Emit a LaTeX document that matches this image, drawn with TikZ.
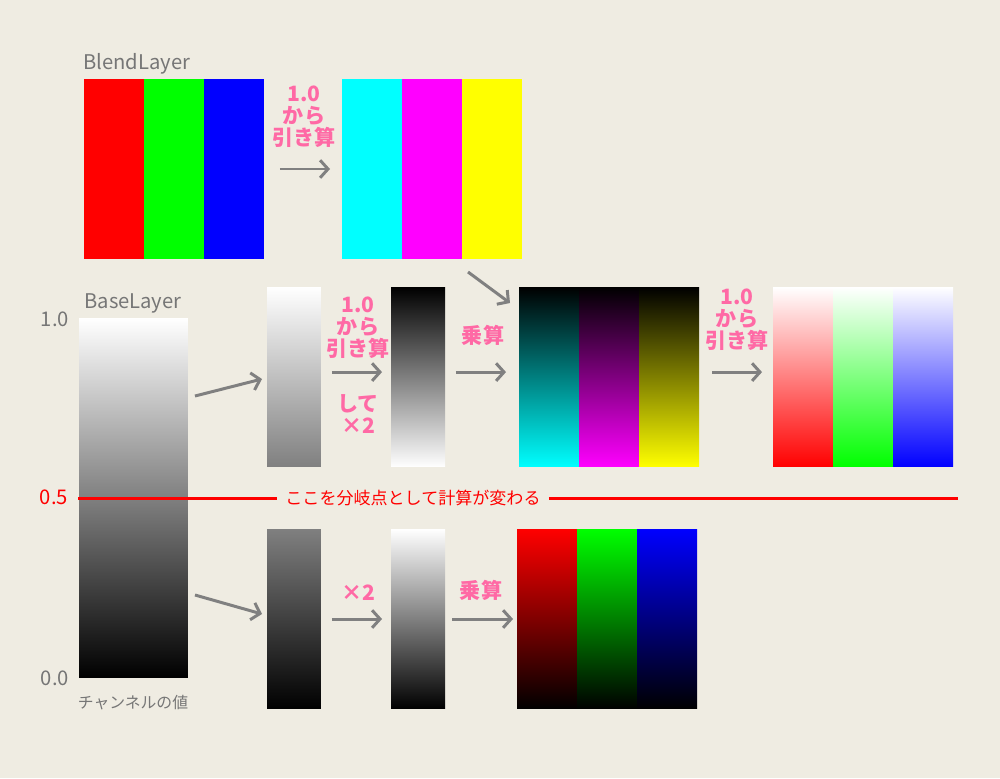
\documentclass[tikz,border=0pt]{standalone}
\usepackage{fontspec}
\setmainfont{Noto Sans CJK JP}
\usetikzlibrary{arrows.meta}

\definecolor{paper}{RGB}{239,236,226}
\definecolor{labelpink}{RGB}{255,105,165}
\definecolor{labelgray}{RGB}{118,118,118}
\definecolor{arrowgray}{RGB}{128,128,128}
\definecolor{pureR}{RGB}{255,0,0}
\definecolor{pureG}{RGB}{0,255,0}
\definecolor{pureB}{RGB}{0,0,255}
\definecolor{pureC}{RGB}{0,255,255}
\definecolor{pureM}{RGB}{255,0,255}
\definecolor{pureY}{RGB}{255,255,0}

\begin{document}
\begin{tikzpicture}[x=0.02cm, y=-0.02cm,
    stripe/.style={inner sep=0pt, outer sep=0pt, minimum width=1.2cm, minimum height=3.6cm},
    strip/.style={inner sep=0pt, outer sep=0pt, minimum width=1.08cm, minimum height=3.6cm},
    flow/.style={draw=arrowgray, line width=1.7pt, -{Straight Barb[length=4.5pt, width=10pt]}},
    op/.style={text=labelpink, font=\bfseries\fontsize{12}{12.6}\selectfont, align=center, inner sep=0pt},
    caption/.style={text=labelgray, font=\fontsize{11.5}{13}\selectfont, inner sep=0pt},
    splitline/.style={draw=pureR, line width=1.7pt}]

    % Background
    \fill[paper] (0,0) rectangle (1000,778);
    \useasboundingbox (0,0) rectangle (1000,778);

    % BlendLayer and its inverse
    \node[caption, anchor=base west] (blendname) at (83,69) {BlendLayer};
    \foreach \c/\x [count=\i] in {pureR/114, pureG/174, pureB/234}
        \node[stripe, fill=\c] (blend\i) at (\x,169) {};
    \foreach \c/\x [count=\i] in {pureC/372, pureM/432, pureY/492}
        \node[stripe, fill=\c] (inv\i) at (\x,169) {};

    % BaseLayer
    \node[caption, anchor=base west] (basename) at (84,308) {BaseLayer};
    \node[inner sep=0pt, outer sep=0pt, minimum width=2.18cm, minimum height=7.2cm,
          top color=white, bottom color=black] (base) at (133.5,498) {};
    \node[caption] (top) at (55,319) {1.0};
    \node[caption] (bottom) at (55,678) {0.0};
    \node[caption, font=\fontsize{9}{10}\selectfont] (channel) at (133,703) {チャンネルの値};

    % Upper branch (above 0.5)
    \node[strip, top color=white, bottom color=black!50] (upA) at (294,377) {};
    \node[strip, top color=black, bottom color=white] (upB) at (418,377) {};
    \foreach \c/\x [count=\i] in {pureC/549, pureM/609, pureY/669}
        \node[stripe, top color=black, bottom color=\c] (mul\i) at (\x,377) {};
    \foreach \c/\x [count=\i] in {pureR/803, pureG/863, pureB/923}
        \node[stripe, top color=white, bottom color=\c] (scr\i) at (\x,377) {};

    % Lower branch (below 0.5)
    \node[strip, top color=black!50, bottom color=black] (lowA) at (294,619) {};
    \node[strip, top color=white, bottom color=black] (lowB) at (418,619) {};
    \foreach \c/\x [count=\i] in {pureR/547, pureG/607, pureB/667}
        \node[stripe, top color=\c, bottom color=black] (dark\i) at (\x,619) {};

    % Split at 0.5
    \node[caption, text=pureR] (half) at (54,497) {0.5};
    \coordinate (splitstart) at (78,498);
    \coordinate (splitend) at (958,498);
    \node[text=pureR, font=\fontsize{9.7}{11}\selectfont, inner xsep=0.16cm, inner ysep=0pt]
        (splitnote) at (413,498) {ここを分岐点として計算が変わる};
    \draw[splitline] (splitstart) -- (splitnote.west);
    \draw[splitline] (splitnote.east) -- (splitend);

    % Arrows
    \draw[flow, shorten <=0.32cm, shorten >=0.24cm] (blend3.east) -- (inv1.west);
    \draw[flow] ([shift={(-24,13)}]inv3.south) -- ([shift={(-9,16)}]mul1.north west);
    \draw[flow] ([shift={(7,-102)}]base.east) -- ([shift={(-5,2)}]upA.west);
    \draw[flow, shorten <=0.22cm, shorten >=0.18cm] ([yshift=2.8pt]upA.east) -- ([yshift=2.8pt]upB.west);
    \draw[flow, shorten <=0.22cm, shorten >=0.26cm] ([yshift=2.8pt]upB.east) -- ([yshift=2.8pt]mul1.west);
    \draw[flow, shorten <=0.26cm, shorten >=0.22cm] ([yshift=2.8pt]mul3.east) -- ([yshift=2.8pt]scr1.west);
    \draw[flow] ([shift={(7,97)}]base.east) -- ([shift={(-5,-5)}]lowA.west);
    \draw[flow, shorten <=0.22cm, shorten >=0.18cm] (lowA.east) -- (lowB.west);
    \draw[flow, shorten <=0.14cm, shorten >=0.08cm] (lowB.east) -- (dark1.west);

    % Operation labels
    \node[op] (subtractA) at (304,117) {1.0\\から\\引き算};
    \node[op] (subtractB) at (358,328) {1.0\\から\\引き算};
    \node[op] (doubleA) at (358,414) {して\\×2};
    \node[op] (multiplyA) at (483,335) {乗算};
    \node[op] (subtractC) at (737,320) {1.0\\から\\引き算};
    \node[op] (doubleB) at (358,593) {×2};
    \node[op] (multiplyB) at (481,590) {乗算};
\end{tikzpicture}
\end{document}
